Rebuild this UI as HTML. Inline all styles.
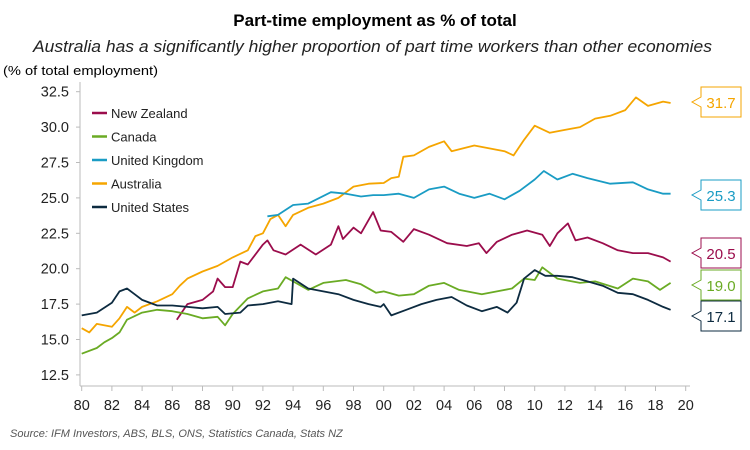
<!DOCTYPE html>
<html><head><meta charset="utf-8"><style>
body{margin:0;background:#fff;}
svg{display:block;font-family:"Liberation Sans",sans-serif;}
</style></head><body>
<svg id="chart" width="750" height="450">
<text x="375" y="26" text-anchor="middle" font-size="17" font-weight="bold" fill="#000">Part-time employment as % of total</text>
<text x="33" y="52" font-size="16.5" font-style="italic" fill="#222" textLength="679" lengthAdjust="spacingAndGlyphs">Australia has a significantly higher proportion of part time workers than other economies</text>
<text x="3" y="75" font-size="13" fill="#000" textLength="155" lengthAdjust="spacingAndGlyphs">(% of total employment)</text>
<text x="10" y="437" font-size="11" font-style="italic" fill="#555">Source: IFM Investors, ABS, BLS, ONS, Statistics Canada, Stats NZ</text>
<g id="axes"></g><g id="series"></g><g id="legend"></g><g id="endlabels"></g>
</svg>
<script>
const yTicks=[12.5,15.0,17.5,20.0,22.5,25.0,27.5,30.0,32.5];
const xTicks=[80,82,84,86,88,90,92,94,96,98,0,2,4,6,8,10,12,14,16,18,20];
const names=["New Zealand","Canada","United Kingdom","Australia","United States"];
const colors=["#9b0d4c","#6aab24","#1a9cc4","#f5a500","#0d2b40"];
const endValues=[20.5,19.0,25.3,31.7,17.1];
const nzX=[1986.3,1987,1988,1988.7,1989,1989.5,1990,1990.5,1991,1992,1992.3,1992.7,1993.5,1994.5,1995.5,1996.5,1997,1997.3,1998,1998.5,1999.3,1999.8,2000.5,2001.3,2002,2003,2004.2,2005.5,2006.3,2006.8,2007.5,2008.5,2009.5,2010.5,2011,2011.5,2012.2,2012.7,2013.5,2014.5,2015.5,2016.5,2017.5,2018.5,2019];
const nzY=[16.4,17.5,17.8,18.4,19.3,18.7,18.7,20.5,20.3,21.7,22.0,21.3,21.0,21.7,21.0,21.7,23.0,22.1,22.9,22.5,24.0,22.7,22.6,21.9,22.8,22.4,21.8,21.6,21.8,21.1,21.9,22.4,22.7,22.4,21.6,22.5,23.2,22.0,22.2,21.8,21.3,21.1,21.1,20.8,20.5];
const caX=[1980,1981,1981.5,1982,1982.5,1983,1984,1985,1986,1987,1988,1989,1989.5,1990,1991,1992,1993,1993.5,1994,1995,1996,1997.5,1998.5,1999.5,2000,2001,2002,2003,2004,2005,2006.5,2007.5,2008.5,2009.3,2010,2010.5,2011.5,2013,2014,2015.5,2016.5,2017.5,2018.3,2019];
const caY=[14.0,14.4,14.8,15.1,15.5,16.4,16.9,17.1,17.0,16.8,16.5,16.6,16.0,16.8,17.9,18.4,18.6,19.4,19.1,18.5,19.0,19.2,18.9,18.3,18.4,18.1,18.2,18.8,19.0,18.5,18.2,18.4,18.6,19.3,19.2,20.1,19.3,19.0,19.1,18.6,19.3,19.1,18.5,19.0];
const ukX=[1992.3,1993,1994,1995,1996.5,1997.5,1998.5,1999.3,2000,2001,2002,2003,2004,2005,2006,2007,2008,2009,2010,2010.6,2011.5,2012.5,2013.5,2015,2016.5,2017.5,2018.5,2019];
const ukY=[23.7,23.8,24.5,24.6,25.4,25.3,25.1,25.2,25.2,25.3,25.0,25.6,25.8,25.3,25.0,25.3,24.9,25.5,26.3,26.9,26.3,26.7,26.4,26.0,26.1,25.6,25.3,25.3];
const auX=[1980,1980.5,1981,1982,1982.5,1983,1983.5,1984,1985,1986,1986.5,1987,1988,1989,1990,1991,1991.5,1992,1992.5,1993,1993.5,1994,1995,1996,1997,1998,1999,2000,2000.5,2001,2001.3,2002,2003,2004,2004.5,2006,2008,2008.6,2009.3,2010,2011,2012,2013,2014,2015,2016,2016.7,2017.5,2018.5,2019];
const auY=[15.8,15.5,16.1,15.9,16.5,17.3,16.9,17.3,17.7,18.2,18.8,19.3,19.8,20.2,20.8,21.3,22.3,22.5,23.5,23.8,23.0,23.8,24.3,24.6,25.0,25.8,26.0,26.05,26.4,26.5,27.9,28.0,28.6,29.0,28.3,28.7,28.3,28.0,29.1,30.1,29.6,29.8,30.0,30.6,30.8,31.2,32.1,31.5,31.8,31.7];
const usX=[1980,1981,1982,1982.5,1983,1983.5,1984,1985,1986,1987,1988,1989,1989.5,1990.5,1991,1992,1993,1993.9,1994,1995,1996,1997,1998,1999,1999.8,2000,2000.5,2001.5,2002.5,2003.5,2004.5,2005.5,2006.5,2007.5,2008.2,2008.8,2009.3,2010,2010.7,2011.5,2012.5,2013.5,2014.5,2015.5,2016.5,2017.5,2018.5,2019];
const usY=[16.7,16.9,17.6,18.4,18.6,18.2,17.8,17.4,17.4,17.3,17.2,17.3,16.8,16.9,17.4,17.5,17.7,17.5,19.3,18.6,18.4,18.2,17.8,17.5,17.3,17.5,16.7,17.1,17.5,17.8,18.0,17.4,17.0,17.3,16.9,17.6,19.3,19.9,19.5,19.5,19.4,19.1,18.8,18.3,18.2,17.8,17.3,17.1];
const seriesX=[nzX,caX,ukX,auX,usX];
const seriesY=[nzY,caY,ukY,auY,usY];
const NS="http://www.w3.org/2000/svg";
const X0=81.7,XPY=15.1,Y0=91.7,YPU=14.16;
function xs(yr){return X0+(yr-1980)*XPY;}
function ys(v){return Y0+(32.5-v)*YPU;}
function mk(tag,attrs,parent){const e=document.createElementNS(NS,tag);for(const k in attrs)e.setAttribute(k,attrs[k]);parent.appendChild(e);return e;}
const axes=document.getElementById('axes');
let yax=mk('line',{x1:80,x2:80,y1:82,y2:386,stroke:'#bbb','stroke-width':1},axes);


let xax=mk('line',{x1:80,x2:690,y1:386,y2:386,stroke:'#bbb','stroke-width':1},axes);


yTicks.forEach(v=>{
  const t=mk('text',{x:69,y:ys(v)+5,'text-anchor':'end','font-size':14.5,fill:'#222'},axes);
  t.textContent=v.toFixed(1);
  
  
  mk('line',{x1:76,x2:80,y1:ys(v),y2:ys(v),stroke:'#bbb'},axes);
});
xTicks.forEach(v=>{
  const yr=v>=80?1900+v:2000+v;
  const x=xs(yr);
  mk('line',{x1:x,x2:x,y1:386,y2:391,stroke:'#bbb'},axes);
  const t=mk('text',{x:x,y:410,'text-anchor':'middle','font-size':14.5,fill:'#222'},axes);
  t.textContent=String(v).padStart(2,'0');
  
  
});
const sg=document.getElementById('series');
const drawOrder=[3,2,0,1,4];
drawOrder.forEach(i=>{
  const d=seriesX[i].map((x,j)=>(j?'L':'M')+xs(x).toFixed(1)+','+ys(seriesY[i][j]).toFixed(1)).join('');
  const p=mk('path',{d:d,fill:'none',stroke:colors[i],'stroke-width':1.8,'stroke-linejoin':'round'},sg);
  
  
});
const lg=document.getElementById('legend');
names.forEach((n,i)=>{
  const y=113+i*23.5;
  const g=mk('g',{},lg);
  
  
  mk('line',{x1:92,x2:107,y1:y,y2:y,stroke:colors[i],'stroke-width':2.5},g);
  const t=mk('text',{x:111,y:y+5,'font-size':13,fill:'#222'},g);
  t.textContent=n;
});
const el=document.getElementById('endlabels');
const boxCY=[253,285,195,102,316];
endValues.forEach((v,i)=>{
  const cy=boxCY[i];
  const g=mk('g',{},el);
  
  
  mk('path',{d:`M701,${cy-15}H741V${cy+15}H701V${cy+5}L692,${cy}L701,${cy-5}Z`,fill:'#fff',stroke:colors[i],'stroke-width':1},g);
  const t=mk('text',{x:721,y:cy+6,'text-anchor':'middle','font-size':15,fill:colors[i]},g);
  t.textContent=v.toFixed(1);
});
</script>
</body></html>
